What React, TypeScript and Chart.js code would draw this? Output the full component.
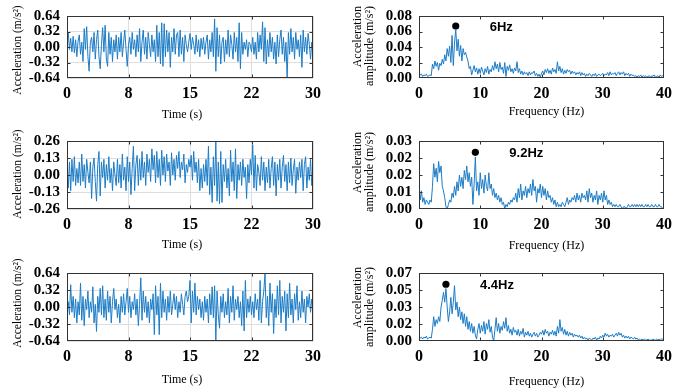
import React, { useEffect, useRef } from "react";
import { Chart, registerables } from "chart.js";

Chart.register(...registerables);

// ---------- sampling grid ----------
const TIME_STEP = 0.15; // s between samples
const FREQ_STEP = 0.2; // Hz between samples

// ---------- acceleration time histories (m/s²) ----------
const ACC_1 = [
  0.02, 0.30, -0.05, 0.18, -0.10, 0.22, -0.12, 0.15, -0.20, 0.12,
  0.25, -0.15, 0.10, -0.30, 0.38, -0.05, 0.42, -0.20, -0.50, 0.10,
  0.20, -0.10, 0.30, -0.25, 0.15, 0.35, -0.20, -0.45, 0.05, 0.40,
  -0.10, 0.45, -0.25, -0.40, 0.30, -0.15, 0.20, -0.30, 0.15, -0.10,
  0.25, -0.25, 0.20, -0.10, 0.30, -0.20, 0.10, 0.35, -0.05, -0.40,
  0.05, 0.20, -0.15, 0.30, -0.05, 0.15, -0.20, 0.25, -0.10, 0.38,
  -0.30, 0.10, 0.35, -0.15, 0.20, -0.25, 0.30, 0.05, -0.20, 0.25,
  -0.10, 0.15, -0.30, 0.45, -0.20, 0.30, -0.35, 0.50, -0.40, 0.48,
  -0.20, 0.35, -0.10, 0.30, -0.42, 0.20, -0.10, 0.38, -0.15, 0.25,
  0.30, -0.20, 0.35, -0.15, 0.20, -0.30, 0.25, 0.05, -0.10, 0.10,
  0.28, -0.05, 0.20, 0.05, -0.15, 0.25, -0.10, 0.15, -0.20, 0.18,
  -0.05, 0.20, -0.15, 0.10, 0.25, -0.25, 0.15, -0.10, 0.30, -0.20,
  0.58, -0.50, 0.40, -0.20, 0.25, -0.35, 0.10, 0.20, -0.30, 0.15,
  -0.15, 0.35, -0.20, 0.25, 0.05, -0.25, 0.30, -0.10, 0.20, -0.30,
  0.50, -0.45, 0.30, -0.15, 0.10, -0.05, 0.15, -0.20, 0.10, 0.05,
  -0.10, 0.20, -0.15, 0.10, -0.25, 0.30, -0.10, 0.25, -0.05, 0.52,
  -0.30, 0.40, -0.35, 0.15, -0.20, 0.30, -0.10, 0.20, -0.25, 0.10,
  -0.35, 0.25, -0.20, 0.15, 0.35, -0.15, 0.20, -0.30, 0.10, -0.64,
  0.30, -0.15, 0.38, -0.10, 0.20, -0.25, 0.30, -0.05, 0.15, -0.20,
  0.25, -0.42, 0.35, -0.10, 0.20, -0.15, 0.28, 0.05, -0.25, 0.10,
  -0.15,
];

const ACC_2 = [
  0.00, -0.10, 0.10, -0.12, 0.12, -0.05, 0.14, -0.08, 0.05, -0.06,
  0.10, -0.08, 0.16, -0.05, 0.08, -0.10, 0.12, 0.02, -0.06, 0.10,
  -0.18, 0.06, 0.13, -0.05, -0.20, 0.08, 0.18, -0.16, 0.10, -0.02,
  0.12, -0.10, 0.08, -0.04, 0.14, -0.06, 0.05, -0.12, 0.10, 0.00,
  -0.08, 0.12, -0.06, 0.08, -0.10, 0.16, -0.04, 0.06, -0.12, 0.14,
  -0.05, 0.10, -0.15, 0.05, 0.22, -0.12, 0.08, 0.15, -0.08, 0.12,
  -0.04, 0.18, -0.02, 0.10, -0.08, 0.16, 0.02, 0.12, -0.05, 0.20,
  0.04, 0.15, -0.06, 0.18, -0.02, 0.12, -0.08, 0.19, 0.00, 0.14,
  -0.05, 0.16, 0.03, 0.10, -0.08, 0.17, 0.00, 0.12, -0.04, 0.15,
  0.05, 0.18, -0.02, 0.10, 0.04, 0.16, -0.06, 0.08, 0.02, 0.12,
  0.06, 0.15, -0.04, 0.18, 0.02, 0.10, -0.06, 0.12, -0.12, 0.05,
  -0.10, 0.08, -0.05, 0.12, -0.08, 0.22, -0.15, 0.06, -0.21, 0.14,
  -0.08, 0.26, -0.20, 0.10, -0.22, 0.18, -0.21, 0.08, -0.05, 0.12,
  -0.10, 0.05, -0.16, 0.19, -0.05, 0.10, -0.12, 0.20, -0.18, 0.08,
  -0.04, 0.10, -0.08, 0.12, -0.02, 0.06, -0.18, 0.08, -0.06, 0.12,
  0.00, 0.23, -0.10, 0.15, -0.12, 0.08, 0.02, -0.08, 0.14, -0.04,
  0.10, -0.12, 0.06, -0.06, 0.12, -0.10, 0.05, 0.14, -0.08, 0.10,
  -0.16, 0.08, -0.04, 0.12, -0.10, 0.06, 0.15, -0.05, 0.08, -0.12,
  0.10, -0.06, 0.13, -0.08, 0.04, 0.12, -0.14, 0.06, -0.04, 0.10,
  -0.02, 0.12, -0.12, 0.08, 0.14, -0.10, 0.06, -0.04, 0.12, -0.08,
  0.00,
];

const ACC_3 = [
  0.00, 0.10, -0.15, 0.42, -0.10, 0.20, -0.20, 0.15, -0.30, 0.10,
  -0.15, 0.45, -0.25, 0.20, -0.35, 0.15, -0.05, 0.30, -0.20, 0.10,
  -0.10, 0.38, -0.30, 0.05, -0.46, 0.20, -0.10, 0.35, -0.15, 0.40,
  -0.20, 0.15, -0.25, 0.30, -0.10, 0.20, -0.30, 0.10, 0.35, -0.05,
  0.15, -0.20, 0.05, -0.30, 0.20, -0.10, 0.25, -0.15, 0.10, 0.35,
  -0.10, 0.20, -0.20, 0.10, -0.05, 0.25, -0.15, 0.15, -0.35, 0.05,
  0.55, -0.25, 0.30, -0.10, 0.20, -0.20, 0.10, -0.30, 0.15, -0.05,
  0.25, -0.52, 0.40, -0.15, 0.20, -0.52, 0.45, -0.20, 0.30, -0.10,
  0.15, -0.25, 0.20, -0.10, 0.30, -0.15, 0.05, 0.25, -0.05, 0.20,
  -0.20, 0.10, -0.10, 0.25, 0.05, -0.15, 0.20, 0.30, 0.10, 0.20,
  0.50, -0.30, 0.30, -0.10, 0.45, -0.15, 0.20, -0.05, 0.15, -0.20,
  0.10, -0.25, 0.20, -0.10, 0.15, -0.30, 0.25, -0.15, 0.38, -0.20,
  0.40, -0.64, 0.30, -0.15, -0.40, 0.20, -0.10, 0.25, -0.20, 0.10,
  -0.15, 0.35, -0.30, 0.20, -0.10, 0.40, -0.25, 0.15, -0.05, 0.20,
  -0.20, 0.10, -0.35, 0.30, -0.45, 0.50, -0.20, 0.15, -0.10, 0.20,
  -0.15, 0.10, -0.20, 0.25, -0.05, 0.15, -0.25, 0.50, -0.30, 0.10,
  0.30, 0.64, -0.20, 0.20, -0.35, 0.45, -0.10, 0.25, -0.50, 0.15,
  -0.20, 0.40, -0.15, 0.50, -0.30, 0.20, -0.10, 0.30, -0.45, 0.25,
  -0.20, 0.45, -0.15, 0.15, -0.30, 0.25, -0.05, 0.40, -0.25, 0.10,
  -0.20, 0.30, -0.10, 0.15, -0.30, 0.20, 0.00, 0.25, -0.10, 0.15,
  0.05,
];

// ---------- amplitude spectra (m/s²) ----------
const SPEC_1 = [
  0.008, 0.004, 0.005, 0.002, 0.004, 0.003, 0.005, 0.002, 0.003, 0.004,
  0.003, 0.018, 0.012, 0.022, 0.015, 0.020, 0.010, 0.019, 0.016, 0.024,
  0.018, 0.030, 0.022, 0.038, 0.028, 0.041, 0.020, 0.055, 0.016, 0.045,
  0.063, 0.035, 0.050, 0.028, 0.042, 0.022, 0.038, 0.030, 0.033, 0.027,
  0.022, 0.012, 0.015, 0.004, 0.010, 0.016, 0.008, 0.013, 0.005, 0.012,
  0.006, 0.014, 0.009, 0.004, 0.012, 0.007, 0.015, 0.005, 0.011, 0.008,
  0.016, 0.010, 0.021, 0.012, 0.018, 0.008, 0.020, 0.011, 0.014, 0.006,
  0.020, 0.002, 0.015, 0.010, 0.017, 0.008, 0.012, 0.006, 0.013, 0.009,
  0.021, 0.007, 0.012, 0.005, 0.009, 0.004, 0.008, 0.005, 0.007, 0.003,
  0.008, 0.004, 0.007, 0.006, 0.009, 0.003, 0.006, 0.002, 0.005, 0.001,
  0.006, 0.009, 0.004, 0.011, 0.007, 0.012, 0.006, 0.010, 0.005, 0.013,
  0.008, 0.011, 0.006, 0.021, 0.009, 0.015, 0.007, 0.012, 0.005, 0.010,
  0.006, 0.011, 0.008, 0.010, 0.005, 0.009, 0.006, 0.008, 0.004, 0.007,
  0.005, 0.008, 0.003, 0.007, 0.004, 0.006, 0.002, 0.005, 0.003, 0.006,
  0.004, 0.002, 0.005, 0.003, 0.006, 0.002, 0.004, 0.005, 0.003, 0.004,
  0.006, 0.003, 0.005, 0.004, 0.007, 0.003, 0.008, 0.004, 0.006, 0.005,
  0.007, 0.003, 0.006, 0.008, 0.004, 0.007, 0.005, 0.008, 0.003, 0.006,
  0.004, 0.006, 0.002, 0.005, 0.003, 0.004, 0.002, 0.003, 0.001, 0.003,
  0.002, 0.004, 0.001, 0.003, 0.002, 0.003, 0.001, 0.002, 0.003, 0.001,
  0.003, 0.002, 0.004, 0.001, 0.002, 0.003, 0.001, 0.004, 0.002, 0.003,
  0.002,
];

const SPEC_2 = [
  0.012, 0.004, 0.008, 0.003, 0.005, 0.002, 0.004, 0.003, 0.002, 0.004,
  0.003, 0.010, 0.020, 0.014, 0.018, 0.012, 0.021, 0.016, 0.019, 0.010,
  0.008, 0.005, 0.001, 0.000, 0.002, 0.004, 0.003, 0.007, 0.005, 0.010,
  0.006, 0.012, 0.008, 0.015, 0.010, 0.014, 0.009, 0.017, 0.013, 0.019,
  0.012, 0.016, 0.010, 0.014, 0.002, 0.011, 0.023, 0.008, 0.012, 0.006,
  0.016, 0.009, 0.013, 0.007, 0.015, 0.010, 0.008, 0.016, 0.009, 0.011,
  0.006, 0.009, 0.005, 0.007, 0.004, 0.006, 0.003, 0.005, 0.002, 0.003,
  0.000, 0.002, 0.001, 0.003, 0.002, 0.004, 0.003, 0.005, 0.004, 0.007,
  0.003, 0.009, 0.005, 0.011, 0.004, 0.008, 0.006, 0.010, 0.005, 0.009,
  0.007, 0.011, 0.006, 0.013, 0.008, 0.010, 0.003, 0.009, 0.007, 0.011,
  0.005, 0.010, 0.006, 0.009, 0.004, 0.008, 0.005, 0.006, 0.003, 0.005,
  0.002, 0.004, 0.001, 0.003, 0.001, 0.002, 0.001, 0.003, 0.002, 0.001,
  0.003, 0.005, 0.002, 0.004, 0.003, 0.005, 0.004, 0.006, 0.003, 0.007,
  0.004, 0.006, 0.003, 0.007, 0.005, 0.006, 0.004, 0.008, 0.003, 0.009,
  0.005, 0.007, 0.003, 0.006, 0.004, 0.008, 0.002, 0.006, 0.004, 0.007,
  0.003, 0.008, 0.004, 0.006, 0.002, 0.004, 0.002, 0.003, 0.001, 0.002,
  0.001, 0.002, 0.001, 0.001, 0.002, 0.001, 0.000, 0.001, 0.001, 0.000,
  0.001, 0.002, 0.001, 0.001, 0.002, 0.001, 0.002, 0.001, 0.002, 0.001,
  0.002, 0.001, 0.002, 0.001, 0.001, 0.002, 0.001, 0.002, 0.001, 0.001,
  0.002, 0.001, 0.001, 0.002, 0.001, 0.001, 0.002, 0.001, 0.001, 0.000,
  0.001,
];

const SPEC_3 = [
  0.005, 0.003, 0.004, 0.002, 0.004, 0.003, 0.005, 0.002, 0.003, 0.004,
  0.003, 0.012, 0.025, 0.015, 0.022, 0.018, 0.025, 0.020, 0.035, 0.042,
  0.050, 0.040, 0.054, 0.035, 0.020, 0.030, 0.045, 0.028, 0.040, 0.057,
  0.032, 0.040, 0.025, 0.035, 0.022, 0.030, 0.018, 0.028, 0.015, 0.025,
  0.012, 0.020, 0.010, 0.018, 0.008, 0.015, 0.006, 0.002, 0.012, 0.018,
  0.008, 0.016, 0.010, 0.020, 0.007, 0.018, 0.012, 0.022, 0.009, 0.015,
  0.004, 0.000, 0.012, 0.024, 0.010, 0.018, 0.008, 0.015, 0.011, 0.020,
  0.013, 0.024, 0.010, 0.016, 0.008, 0.012, 0.006, 0.014, 0.009, 0.011,
  0.006, 0.012, 0.005, 0.010, 0.007, 0.013, 0.004, 0.009, 0.006, 0.010,
  0.005, 0.008, 0.004, 0.007, 0.009, 0.005, 0.008, 0.004, 0.006, 0.009,
  0.007, 0.011, 0.006, 0.012, 0.008, 0.010, 0.005, 0.009, 0.007, 0.011,
  0.006, 0.010, 0.005, 0.015, 0.008, 0.022, 0.010, 0.014, 0.007, 0.012,
  0.006, 0.010, 0.005, 0.009, 0.006, 0.008, 0.004, 0.007, 0.005, 0.006,
  0.004, 0.006, 0.003, 0.005, 0.002, 0.004, 0.002, 0.003, 0.001, 0.003,
  0.002, 0.001, 0.003, 0.002, 0.004, 0.001, 0.003, 0.002, 0.005, 0.003,
  0.006, 0.004, 0.008, 0.005, 0.007, 0.004, 0.006, 0.005, 0.007, 0.004,
  0.006, 0.008, 0.005, 0.009, 0.006, 0.008, 0.004, 0.006, 0.003, 0.005,
  0.003, 0.005, 0.002, 0.004, 0.003, 0.002, 0.004, 0.002, 0.003, 0.001,
  0.002, 0.001, 0.002, 0.001, 0.002, 0.001, 0.001, 0.002, 0.001, 0.001,
  0.001, 0.002, 0.001, 0.001, 0.002, 0.001, 0.002, 0.001, 0.002, 0.002,
  0.003,
];

// ---------- tick labels ----------
const TIME_TICK_LABELS = ["0", "8", "15", "22", "30"];
const FREQ_TICK_LABELS = ["0", "10", "20", "30", "40"];
const ACC_TICK_LABELS_1 = ["-0.64", "-0.32", "0.00", "0.32", "0.64"];
const ACC_TICK_LABELS_2 = ["-0.26", "-0.13", "0.00", "0.13", "0.26"];
const ACC_TICK_LABELS_3 = ["-0.64", "-0.32", "0.00", "0.32", "0.64"];
const SPEC_TICK_LABELS_1 = ["0.00", "0.02", "0.04", "0.06", "0.08"];
const SPEC_TICK_LABELS_2 = ["0.00", "0.01", "0.02", "0.02", "0.03"];
const SPEC_TICK_LABELS_3 = ["0.00", "0.02", "0.03", "0.05", "0.07"];

// ---------- dominant-frequency markers ----------
const PEAK_FREQ = [6, 9.2, 4.4];
const PEAK_AMP = [0.067, 0.025, 0.0584];
const PEAK_LABELS = ["6Hz", "9.2Hz", "4.4Hz"];

// ---------- styles ----------
const LINE_COLOR = "rgb(28,124,198)";
const FRAME_COLOR = "#333333";
const GRID_COLOR = "#dedede";
const SERIF = '"Liberation Serif", "Times New Roman", serif';
const SANS = '"Liberation Sans", Arial, sans-serif';

type PanelCfg = {
  left: number;
  top: number;
  width: number;
  height: number;
  padTop: number;
  padRight: number;
  yWidth: number;
  xHeight: number;
  kind: "time" | "freq";
  values: number[];
  yMin: number;
  yMax: number;
  yLabels: string[];
  peak?: number;
  yTitleCenterY: number; // canvas-relative
  yTitleTopY: number; // for two-line title
  xTitleY: number; // canvas-relative
};

function Panel({ cfg }: { cfg: PanelCfg }) {
  const ref = useRef<HTMLCanvasElement>(null);
  useEffect(() => {
    const canvas = ref.current!;
    const isTime = cfg.kind === "time";
    const step = isTime ? TIME_STEP : FREQ_STEP;
    const xMax = isTime ? 30 : 40;
    const xLabels = isTime ? TIME_TICK_LABELS : FREQ_TICK_LABELS;
    const pts = cfg.values.map((v, i) => ({ x: Math.round(i * step * 1000) / 1000, y: v }));
    const datasets: any[] = [
      {
        type: "line",
        data: pts,
        borderColor: LINE_COLOR,
        borderWidth: 1,
        pointRadius: 0,
        tension: 0,
        fill: false,
      },
    ];
    if (cfg.peak !== undefined) {
      datasets.push({
        type: "scatter",
        data: [{ x: PEAK_FREQ[cfg.peak], y: PEAK_AMP[cfg.peak] }],
        pointRadius: 3.6,
        backgroundColor: "#000",
        borderColor: "#000",
        borderWidth: 0,
      });
    }

    const deco = {
      id: "deco",
      afterDraw(chart: any) {
        const { ctx, chartArea } = chart;
        const { left, right, top, bottom } = chartArea;
        const xs = chart.scales.x;
        const ys = chart.scales.y;
        ctx.save();
        // frame
        ctx.strokeStyle = FRAME_COLOR;
        ctx.lineWidth = 1;
        const L = Math.round(left) + 0.5;
        const R = Math.round(right) - 0.5;
        const T = Math.round(top) + 0.5;
        const B = Math.round(bottom) - 0.5;
        ctx.strokeRect(L, T, R - L, B - T);
        // inward ticks
        const tl = 3;
        ctx.beginPath();
        xs.ticks.forEach((t: any, i: number) => {
          if (i === 0 || i === xs.ticks.length - 1) return;
          const px = Math.round(xs.getPixelForValue(t.value)) + 0.5;
          ctx.moveTo(px, B);
          ctx.lineTo(px, B - tl);
          ctx.moveTo(px, T);
          ctx.lineTo(px, T + tl);
        });
        ys.ticks.forEach((t: any, i: number) => {
          if (i === 0 || i === ys.ticks.length - 1) return;
          const py = Math.round(ys.getPixelForValue(t.value)) + 0.5;
          ctx.moveTo(L, py);
          ctx.lineTo(L + tl, py);
          ctx.moveTo(R, py);
          ctx.lineTo(R - tl, py);
        });
        ctx.stroke();

        // axis titles
        ctx.fillStyle = "#000";
        ctx.textBaseline = "middle";
        ctx.textAlign = "center";
        const cx = (left + right) / 2;
        ctx.font = `12px ${SERIF}`;
        ctx.fillText(isTime ? "Time (s)" : "Frequency (Hz)", cx + (isTime ? -8 : 5), cfg.xTitleY);

        if (isTime) {
          ctx.save();
          ctx.font = `11.5px ${SERIF}`;
          ctx.translate(17.5, cfg.yTitleCenterY);
          ctx.rotate(-Math.PI / 2);
          ctx.textAlign = "center";
          ctx.fillText("Acceleration (m/s²)", 0, 0);
          ctx.restore();
        } else {
          ctx.save();
          ctx.font = `12px ${SERIF}`;
          ctx.translate(17.5, cfg.yTitleTopY);
          ctx.rotate(-Math.PI / 2);
          ctx.textAlign = "right";
          ctx.fillText("Acceleration", 0, 0);
          ctx.fillText("amplitude (m/s²)", 0, 12.5);
          ctx.restore();
        }

        // peak label
        if (cfg.peak !== undefined) {
          const px = xs.getPixelForValue(PEAK_FREQ[cfg.peak]);
          const py = ys.getPixelForValue(PEAK_AMP[cfg.peak]);
          ctx.font = `bold 13px ${SANS}`;
          ctx.textAlign = "left";
          ctx.textBaseline = "middle";
          ctx.fillText(PEAK_LABELS[cfg.peak], px + 34, py + 1);
        }
        ctx.restore();
      },
    };

    const yTickFont = { family: SERIF, size: 15, weight: "bold" as const };
    const xTickFont = { family: SERIF, size: 16, weight: "bold" as const };

    const chart = new Chart(canvas, {
      type: "line",
      data: { datasets },
      options: {
        animation: false,
        responsive: false,
        events: [],
        layout: { padding: { top: cfg.padTop, right: cfg.padRight, left: 0, bottom: 0 } },
        plugins: { legend: { display: false }, tooltip: { enabled: false } },
        scales: {
          x: {
            type: "linear",
            min: 0,
            max: xMax,
            border: { display: false },
            grid: { display: isTime, color: GRID_COLOR, drawTicks: false },
            ticks: {
              stepSize: xMax / 4,
              autoSkip: false,
              maxRotation: 0,
              padding: 6,
              color: "#000",
              font: xTickFont,
              callback: (_v: any, i: number) => xLabels[i],
            },
            afterFit: (s: any) => {
              s.height = cfg.xHeight;
            },
          },
          y: {
            type: "linear",
            min: cfg.yMin,
            max: cfg.yMax,
            border: { display: false },
            grid: { display: isTime, color: GRID_COLOR, drawTicks: false },
            ticks: {
              stepSize: (cfg.yMax - cfg.yMin) / 4,
              autoSkip: false,
              padding: 7,
              color: "#000",
              font: yTickFont,
              callback: (_v: any, i: number) => cfg.yLabels[i],
            },
            afterFit: (s: any) => {
              s.width = cfg.yWidth;
            },
          },
        },
      } as any,
      plugins: [deco],
    });
    return () => chart.destroy();
  }, []);
  return (
    <canvas
      ref={ref}
      width={cfg.width}
      height={cfg.height}
      style={{ position: "absolute", left: cfg.left, top: cfg.top, width: cfg.width, height: cfg.height }}
    />
  );
}

const LEFT_COL = { left: 0, width: 330, padRight: 17, yWidth: 67 };
const RIGHT_COL = { left: 340, width: 338, padRight: 13, yWidth: 79 };
const ROW_1 = { top: 0, height: 125, padTop: 10, xHeight: 47 };
const ROW_2 = { top: 122, height: 135, padTop: 19, xHeight: 48 };
const ROW_3 = { top: 254, height: 135, padTop: 19, xHeight: 48 };

const PANELS: PanelCfg[] = [
  { ...LEFT_COL, ...ROW_1, kind: "time", values: ACC_1, yMin: -0.64, yMax: 0.64, yLabels: ACC_TICK_LABELS_1, yTitleCenterY: 50, yTitleTopY: 0, xTitleY: 115 },
  { ...RIGHT_COL, ...ROW_1, kind: "freq", values: SPEC_1, yMin: 0, yMax: 0.08, yLabels: SPEC_TICK_LABELS_1, peak: 0, yTitleCenterY: 0, yTitleTopY: 6, xTitleY: 112 },
  { ...LEFT_COL, ...ROW_2, kind: "time", values: ACC_2, yMin: -0.26, yMax: 0.26, yLabels: ACC_TICK_LABELS_2, yTitleCenterY: 52, yTitleTopY: 0, xTitleY: 123 },
  { ...RIGHT_COL, ...ROW_2, kind: "freq", values: SPEC_2, yMin: 0, yMax: 0.03, yLabels: SPEC_TICK_LABELS_2, peak: 1, yTitleCenterY: 0, yTitleTopY: 10, xTitleY: 124 },
  { ...LEFT_COL, ...ROW_3, kind: "time", values: ACC_3, yMin: -0.64, yMax: 0.64, yLabels: ACC_TICK_LABELS_3, yTitleCenterY: 49, yTitleTopY: 0, xTitleY: 126 },
  { ...RIGHT_COL, ...ROW_3, kind: "freq", values: SPEC_3, yMin: 0, yMax: 0.07, yLabels: SPEC_TICK_LABELS_3, peak: 2, yTitleCenterY: 0, yTitleTopY: 13, xTitleY: 128 },
];

export default function App() {
  return (
    <div style={{ position: "absolute", left: 0, top: 0, width: 678, height: 389, background: "#fff" }}>
      {PANELS.map((p, i) => (
        <Panel key={i} cfg={p} />
      ))}
    </div>
  );
}
